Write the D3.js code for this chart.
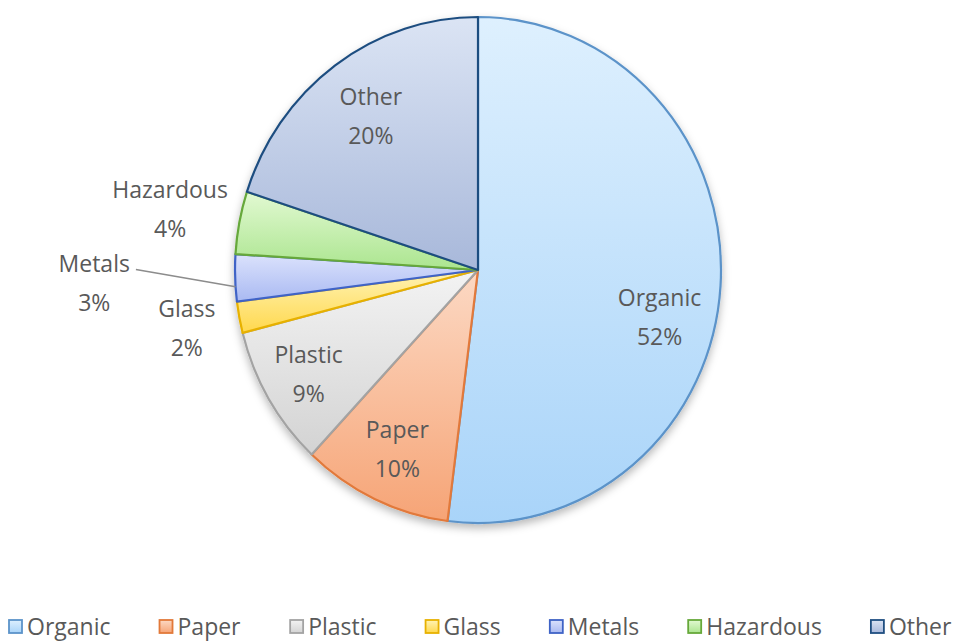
<!DOCTYPE html>
<html>
<head>
<meta charset="utf-8">
<script src="https://cdn.jsdelivr.net/npm/d3@7"></script>
<style>
  body { margin: 0; background: #fff; }
  text { font-family: "Open Sans", Lato, sans-serif; fill: #595959; }
</style>
</head>
<body>
<div id="pieChart"></div>
<script>
// data
const categories = ["Organic", "Paper", "Plastic", "Glass", "Metals", "Hazardous", "Other"];
const shares = [52, 10, 9, 2, 3, 4, 20];

// colours: [top of gradient, bottom of gradient, outline]
const colours = {
    Organic:   ["#def0fe", "#a9d4f9", "#5b93c9"],
    Paper:     ["#fcd9c4", "#f6a476", "#e2793a"],
    Plastic:   ["#f3f3f3", "#d3d3d3", "#a3a3a3"],
    Glass:     ["#fff3b5", "#ffd84d", "#e7b100"],
    Metals:    ["#dbe2fc", "#a9b9f2", "#3f63c6"],
    Hazardous: ["#e2f9d2", "#abe58f", "#66a83a"],
    Other:     ["#dbe4f4", "#a8b8da", "#1f4e80"]
};

// label placement: radius as fraction of pie radius, optional angle override (deg)
const labelLayout = {
    Organic:   { k: 0.77, angle: 104 },
    Paper:     { k: 0.78 },
    Plastic:   { k: 0.81 },
    Glass:     { k: 1.22 },
    Metals:    { k: 1.58, leader: true },
    Hazardous: { k: 1.29 },
    Other:     { k: 0.75 }
};

const width = 958, height = 643;
const cx = 478, cy = 270, rx = 243, ry = 253;

const svg = d3.select("#pieChart")
    .append("svg")
    .attr("width", width)
    .attr("height", height);

const defs = svg.append("defs");

categories.forEach(function (c, i) {
    const g = defs.append("linearGradient")
        .attr("id", "grad" + i)
        .attr("x1", 0).attr("y1", 0).attr("x2", 0).attr("y2", 1);
    g.append("stop").attr("offset", "0%").attr("stop-color", colours[c][0]);
    g.append("stop").attr("offset", "100%").attr("stop-color", colours[c][1]);
});

const shadow = defs.append("filter").attr("id", "shadow")
    .attr("x", "-10%").attr("y", "-10%").attr("width", "120%").attr("height", "125%");
shadow.append("feDropShadow")
    .attr("dx", 0).attr("dy", 4).attr("stdDeviation", 4)
    .attr("flood-color", "#000").attr("flood-opacity", 0.28);

const data = categories.map(function (c, i) { return { name: c, value: shares[i], idx: i }; });

const pie = d3.pie()
    .sort(null)
    .value(function (d) { return d.value; });

const arcs = pie(data);

const arc = d3.arc()
    .innerRadius(0)
    .outerRadius(rx);

// the pie is slightly taller than wide in the picture
const pieG = svg.append("g")
    .attr("transform", `translate(${cx},${cy}) scale(1,${ry / rx})`)
    .attr("filter", "url(#shadow)");

pieG.selectAll("path")
    .data(arcs)
    .join("path")
    .attr("d", arc)
    .attr("fill", function (d) { return "url(#grad" + d.data.idx + ")"; })
    .attr("stroke", function (d) { return colours[d.data.name][2]; })
    .attr("stroke-width", 2.2)
    .attr("vector-effect", "non-scaling-stroke")
    .attr("stroke-linejoin", "round");

// point on the ellipse for angle a (radians, clockwise from top) at fraction k
function polar(a, k) {
    return [cx + k * rx * Math.sin(a), cy - k * ry * Math.cos(a)];
}

const total = d3.sum(shares);
const labels = svg.append("g");

arcs.forEach(function (d) {
    const lay = labelLayout[d.data.name];
    let a = (d.startAngle + d.endAngle) / 2;
    if (lay.angle !== undefined) a = lay.angle * Math.PI / 180;
    const p = polar(a, lay.k);
    const pct = Math.round(d.data.value / total * 100) + "%";
    const t = labels.append("text")
        .attr("x", p[0])
        .attr("text-anchor", "middle")
        .style("font-size", "23px");
    t.append("tspan").attr("x", p[0]).attr("y", p[1] - 11).text(d.data.name);
    t.append("tspan").attr("x", p[0]).attr("y", p[1] + 28).text(pct);

    if (lay.leader) {
        const tw = t.select("tspan").node().getComputedTextLength();
        const e = polar(a - 2 * Math.PI / 180, 1);
        labels.append("line")
            .attr("x1", p[0] + tw / 2 + 6)
            .attr("y1", p[1] - 13)
            .attr("x2", e[0])
            .attr("y2", e[1])
            .attr("stroke", "#8c8c8c")
            .attr("stroke-width", 1.5);
    }
});

// legend along the bottom
const legend = svg.append("g");
const items = legend.selectAll("g")
    .data(data)
    .join("g");

items.append("rect")
    .attr("width", 13)
    .attr("height", 13)
    .attr("y", 620)
    .attr("fill", function (d) { return "url(#grad" + d.idx + ")"; })
    .attr("stroke", function (d) { return colours[d.name][2]; })
    .attr("stroke-width", 1.8);

items.append("text")
    .attr("x", 18)
    .attr("y", 635)
    .style("font-size", "23px")
    .text(function (d) { return d.name; });

const widths = [];
items.each(function () { widths.push(this.getBBox().width); });
const left = 9, right = 952;
const gap = (right - left - d3.sum(widths)) / (widths.length - 1);
let xPos = left;
items.each(function (d, i) {
    d3.select(this).attr("transform", `translate(${xPos},0)`);
    xPos += widths[i] + gap;
});
</script>
</body>
</html>
